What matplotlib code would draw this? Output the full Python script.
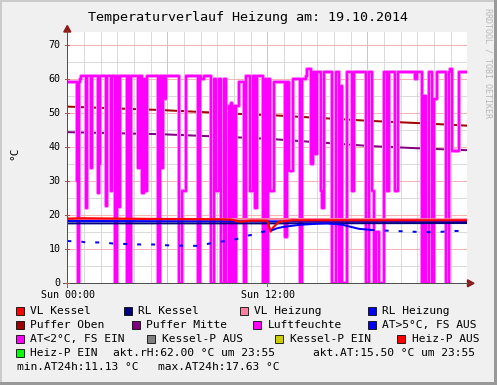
import numpy as np
import matplotlib
matplotlib.use('Agg')
import matplotlib.pyplot as plt
from matplotlib.patches import Rectangle, Polygon
from matplotlib.lines import Line2D

# ---------------- data (hours since 00:00, values) ----------------
TITLE = "Temperaturverlauf Heizung am: 19.10.2014"
Y_TICKS = [0, 10, 20, 30, 40, 50, 60, 70]
X_TICK_POS = [0, 12]
X_TICK_LABELS = ["Sun 00:00", "Sun 12:00"]

# Luftfeuchte (step series)
HUM_H = [0.00, 0.58, 0.62, 0.68, 0.75, 0.85, 1.10, 1.20, 1.40, 1.50, 1.85, 1.92, 1.97,
         2.30, 2.36, 2.60, 2.70, 2.85, 2.97, 3.05, 3.18, 3.58, 3.66, 3.70, 3.80,
         4.25, 4.35, 4.50, 4.60, 4.70, 4.80, 5.45, 5.55, 5.62, 5.75, 5.88, 5.95,
         6.72, 6.90, 7.15, 7.84, 7.98, 8.05, 8.20, 8.60, 8.80, 8.90, 9.10, 9.20,
         9.40, 9.55, 9.70, 9.75, 9.85, 9.90, 10.00, 10.05, 10.15, 10.30, 10.58,
         10.72, 10.98, 11.12, 11.24, 11.38, 11.72, 11.85, 11.90, 12.05, 12.18,
         12.38, 13.08, 13.20, 13.30, 13.55, 13.94, 14.08, 14.30, 14.40, 14.60,
         14.62, 14.74, 14.88, 14.98, 15.20, 15.30, 15.40, 15.90, 16.14, 16.28,
         16.45, 16.50, 16.78, 17.10, 17.20, 17.94, 18.08, 18.28, 18.40, 18.55,
         18.70, 18.98, 19.18, 19.32, 19.68, 19.84, 20.88, 20.98, 21.28, 21.40,
         21.50, 21.68, 21.88, 22.00, 22.18, 22.74, 22.88, 22.98, 23.08, 23.48]
HUM_V = [59, 30, 0, 59, 60, 61, 22, 61, 34, 61, 26.6, 35, 61,
         22.6, 61, 27, 61, 0, 61, 22.4, 61, 0, 61, 0, 61,
         34, 61, 26.6, 60, 27, 61, 0, 61, 34, 61, 54, 61,
         0, 27, 61, 0, 61, 60, 61, 0, 60, 27, 60, 0,
         60, 0, 52, 0, 53, 0, 52, 0, 52, 59, 0,
         61, 27, 61, 22, 61, 0, 60, 0, 60, 27,
         59, 13.6, 59, 33, 60, 0, 60, 61, 63, 62,
         35, 62, 38, 62, 27, 22, 62, 0, 62, 0,
         58, 0, 62, 27, 62, 0, 62, 27, 0, 15,
         0, 62, 27, 62, 27, 62, 60, 62, 0, 55,
         0, 62, 0, 54, 62, 0, 62, 63, 39, 62]

# Puffer Oben / Puffer Mitte
PUF_H = [0.0, 5.6, 11.0, 12.2, 18.2, 21.3, 24.0]
PUF_OBEN = [51.9, 50.9, 49.6, 49.4, 47.7, 47.0, 46.3]
PUF_MITTE = [44.4, 43.8, 42.7, 42.4, 40.3, 39.6, 39.1]

# VL Kessel
VLK_H = [0.0, 1.0, 5.0, 9.0, 9.8, 10.4, 11.0, 12.0, 12.2, 12.35, 12.7, 13.5, 24.0]
VLK_V = [19.0, 19.1, 18.9, 18.8, 18.7, 18.1, 18.4, 18.4, 15.2, 16.4, 18.1, 18.5, 18.5]
# RL Kessel
RLK_H = [0.0, 12.0, 24.0]
RLK_V = [17.6, 17.6, 17.7]
# VL Heizung / RL Heizung
HZ_H = [0.0, 12.0, 24.0]
VLH_V = [18.9, 18.9, 18.8]
RLH_V = [18.3, 18.2, 18.1]

# Aussentemperatur
AT_H = [0.0, 0.8, 1.1, 2.2, 2.7, 3.8, 4.4, 5.2, 6.2, 7.8, 9.1, 9.8, 10.9, 11.3, 11.7,
        12.3, 12.6, 13.0, 14.0, 15.0, 15.6, 16.5, 17.0, 17.5, 18.2, 19.0, 20.0,
        21.0, 22.0, 23.0, 24.0]
AT_V = [12.4, 12.3, 12.0, 12.0, 11.7, 11.5, 11.4, 11.4, 11.1, 11.0, 12.2, 12.5, 14.1,
        14.3, 15.1, 15.6, 16.2, 16.6, 17.2, 17.5, 17.6, 17.2, 16.6, 16.0, 15.7,
        15.5, 15.3, 15.1, 15.0, 15.3, 15.5]

LEGEND = [  # (row, box x, label, colour)
    (0, 16, "VL Kessel", "#FF0000"), (0, 124, "RL Kessel", "#000080"),
    (0, 240, "VL Heizung", "#FF80A0"), (0, 368, "RL Heizung", "#0000FF"),
    (1, 16, "Puffer Oben", "#A00000"), (1, 131.5, "Puffer Mitte", "#800080"),
    (1, 253, "Luftfeuchte", "#FF00FF"), (1, 368, "AT>5°C, FS AUS", "#0000FF"),
    (2, 16, "AT<2°C, FS EIN", "#FF00FF"), (2, 147, "Kessel-P AUS", "#808080"),
    (2, 275, "Kessel-P EIN", "#CCCC00"), (2, 397, "Heiz-P AUS", "#FF0000"),
    (3, 16, "Heiz-P EIN", "#00FF00"),
]
EXTRA_TEXT = [(3, 113, "akt.rH:62.00 °C um 23:55"), (3, 313, "akt.AT:15.50 °C um 23:55"),
              (4, 17, "min.AT24h:11.13 °C"), (4, 158, "max.AT24h:17.63 °C")]
ROW_Y = [311, 325, 339, 353, 367]

# ---------------- figure ----------------
W, H = 497, 385
MONO = 'DejaVu Sans Mono'
fig = plt.figure(figsize=(W / 100, H / 100), dpi=100, facecolor='#F0F0F0')

def P(x, y):
    return (x / W, 1 - y / H)

X0, X1, Y0, YT = 67.3, 467.3, 283.3, 32.3
px_per_unit = (283.3 - 45.0) / 70.0
ymax = (Y0 - YT) / px_per_unit

ax = fig.add_axes([X0 / W, 1 - Y0 / H, (X1 - X0) / W, (Y0 - YT) / H])
ax.set_xlim(0, 24)
ax.set_ylim(0, ymax)
ax.set_facecolor('white')
for s in ax.spines.values():
    s.set_visible(False)
ax.set_xticks([])
ax.set_yticks([])

px = 0.72  # points per pixel
for h in range(1, 24):
    if h % 6:
        ax.axvline(h, color='#DADADA', lw=1 * px, zorder=0.5)
for h in (6, 12, 18):
    ax.axvline(h, color='#F4B4B4', lw=1 * px, zorder=0.6)
for v in range(5, 75, 5):
    if v % 10:
        ax.axhline(v, color='#DADADA', lw=1 * px, zorder=0.5)
    else:
        ax.axhline(v, color='#F4B4B4', lw=1 * px, zorder=0.6)

# Puffer lines
ax.plot(PUF_H, PUF_OBEN, color='#A00000', lw=2 * px, zorder=2)
ax.plot(PUF_H, PUF_MITTE, color='#800080', lw=2 * px, zorder=2)

# Luftfeuchte
hh = np.append(HUM_H, 24.0)
hv = np.append(HUM_V, HUM_V[-1])
ax.step(hh, hv, where='post', color='#FF90FF', lw=4 * px, zorder=3)
ax.step(hh, hv, where='post', color='#FF00FF', lw=2.2 * px, zorder=3.1)

# low temperature lines
ax.plot(HZ_H, VLH_V, color='#FF80A0', lw=2 * px, zorder=4)
ax.plot(HZ_H, RLH_V, color='#0000FF', lw=2 * px, zorder=4.1)
ax.plot(RLK_H, RLK_V, color='#000080', lw=2 * px, zorder=4.2)
ax.plot(VLK_H, VLK_V, color='#FF0000', lw=2.2 * px, zorder=4.3)

# Aussentemperatur: dotted where sparse, solid in afternoon
at_h = np.array(AT_H)
at_v = np.array(AT_V)
m1 = at_h <= 12.3
m2 = (at_h >= 12.3) & (at_h <= 18.2)
m3 = at_h >= 18.2
ax.plot(at_h[m1], at_v[m1], color='#0000FF', lw=2 * px, ls=(0, (2, 5)), zorder=4.4)
ax.plot(at_h[m2], at_v[m2], color='#0000FF', lw=2 * px, zorder=4.4)
ax.plot(at_h[m3], at_v[m3], color='#0000FF', lw=2 * px, ls=(0, (2, 5)), zorder=4.4)

# axes lines + arrows
axis_col = '#505050'
fig.add_artist(Line2D([P(X0, 287)[0], P(X0, 30)[0]], [P(X0, 287)[1], P(X0, 30)[1]],
                      color=axis_col, lw=1 * px))
fig.add_artist(Line2D([P(63, Y0)[0], P(469, Y0)[0]], [P(63, Y0)[1], P(469, Y0)[1]],
                      color=axis_col, lw=1 * px))
fig.add_artist(Polygon([P(X0, 25.5), P(X0 - 3.5, 32), P(X0 + 3.5, 32)], closed=True,
                       transform=fig.transFigure, color='#8B1A1A'))
fig.add_artist(Polygon([P(474, Y0), P(467.5, Y0 - 3.5), P(467.5, Y0 + 3.5)], closed=True,
                       transform=fig.transFigure, color='#8B1A1A'))

# tick labels
for v in Y_TICKS:
    y = Y0 - v * px_per_unit
    fig.text(*P(60.5, y), str(v), ha='right', va='center', fontsize=7.2,
             family=MONO, color='#000000')
    fig.add_artist(Line2D([P(X0 - 2, y)[0], P(X0 + 2, y)[0]], [P(0, y)[1]] * 2,
                          color='#B05050', lw=1 * px))
for hpos, lab in zip(X_TICK_POS, X_TICK_LABELS):
    x = X0 + hpos / 24 * (X1 - X0)
    fig.text(*P(x + 1, 295.5), lab, ha='center', va='center', fontsize=7.2,
             family=MONO, color='#000000')
    fig.add_artist(Line2D([P(x, Y0 - 2)[0]] * 2, [P(x, Y0 - 2)[1], P(x, Y0 + 3)[1]],
                          color='#B05050', lw=1 * px))

# title, axis label, watermark
fig.text(*P(247.5, 17), TITLE, ha='center', va='center', fontsize=9.6, family=MONO,
         color='#000000')
fig.text(*P(14.5, 153), "°C", ha='center', va='center', rotation=90, fontsize=8,
         family=MONO, color='#000000')
fig.text(*P(488, 63), "RRDTOOL / TOBI OETIKER", ha='center', va='center',
         rotation=270, fontsize=6, family=MONO, color='#B8B8B8')

# legend
for row, bx, lab, col in LEGEND:
    y = ROW_Y[row]
    fig.add_artist(Rectangle(P(bx, y + 4), 8 / W, 8 / H, transform=fig.transFigure,
                             facecolor=col, edgecolor='#000000', lw=0.8 * px))
    fig.text(*P(bx + 14.5, y), lab, ha='left', va='center', fontsize=8.1,
             family=MONO, color='#000000')
for row, x, lab in EXTRA_TEXT:
    fig.text(*P(x, ROW_Y[row]), lab, ha='left', va='center', fontsize=8.1,
             family=MONO, color='#000000')

# 3D frame
fig.add_artist(Rectangle((0, 0), 2 / W, 1, transform=fig.transFigure,
                         facecolor='#CBCBCB', edgecolor='none'))
fig.add_artist(Rectangle((0, 1 - 2 / H), 1, 2 / H, transform=fig.transFigure,
                         facecolor='#CBCBCB', edgecolor='none'))
fig.add_artist(Rectangle((1 - 3 / W, 0), 3 / W, 1, transform=fig.transFigure,
                         facecolor='#999999', edgecolor='none'))
fig.add_artist(Rectangle((0, 0), 1, 3 / H, transform=fig.transFigure,
                         facecolor='#999999', edgecolor='none'))

fig.savefig('out.png', dpi=100, facecolor=fig.get_facecolor())
